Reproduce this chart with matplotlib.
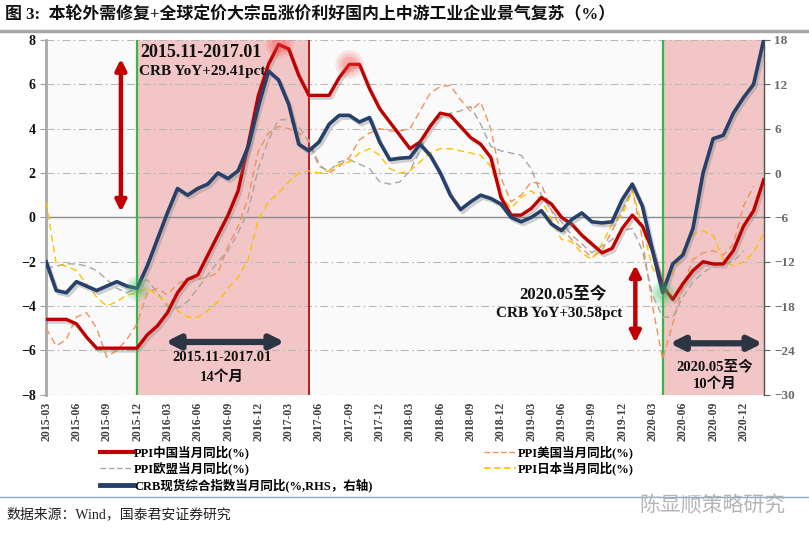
import numpy as np
import matplotlib.pyplot as plt
import matplotlib.patheffects as pe
from matplotlib.patches import FancyArrowPatch
from matplotlib.lines import Line2D

plt.rcParams['font.family'] = ['Liberation Serif', 'Noto Sans CJK SC']
plt.rcParams['font.weight'] = 'bold'

# monthly data, 2015-03 .. 2021-02
tick_labels = ['2015-03', '2015-06', '2015-09', '2015-12', '2016-03', '2016-06', '2016-09', '2016-12',
               '2017-03', '2017-06', '2017-09', '2017-12', '2018-03', '2018-06', '2018-09', '2018-12',
               '2019-03', '2019-06', '2019-09', '2019-12', '2020-03', '2020-06', '2020-09', '2020-12']

ppi_china = [-4.6, -4.6, -4.6, -4.8, -5.4, -5.9, -5.9, -5.9, -5.9, -5.9, -5.3, -4.9,
             -4.3, -3.4, -2.8, -2.6, -1.7, -0.8, 0.1, 1.2, 3.3, 5.5, 6.9, 7.8,
             7.6, 6.4, 5.5, 5.5, 5.5, 6.3, 6.9, 6.9, 5.8, 4.9, 4.3, 3.7,
             3.1, 3.4, 4.1, 4.7, 4.6, 4.1, 3.6, 3.3, 2.7, 0.9, 0.1, 0.1,
             0.4, 0.9, 0.6, 0.0, -0.3, -0.8, -1.2, -1.6, -1.4, -0.5, 0.1, -0.4,
             -1.5, -3.1, -3.7, -3.0, -2.4, -2.0, -2.1, -2.1, -1.5, -0.4, 0.3, 1.7]

ppi_us = [-5.0, -5.8, -5.5, -4.5, -4.3, -5.0, -6.3, -6.0, -5.5, -4.8, -3.4, -3.2,
          -3.5, -3.0, -2.8, -2.8, -2.7, -2.5, -1.3, -0.4, 0.9, 3.0, 3.8, 4.1,
          4.0, 3.8, 3.5, 2.4, 2.0, 2.3, 2.7, 3.5, 3.8, 4.0, 3.9, 3.9,
          4.0, 4.8, 5.6, 5.9, 5.95, 5.3, 4.8, 5.2, 4.0, 1.8, 0.7, 1.0,
          1.6, 1.5, 0.3, -0.5, -1.0, -1.4, -1.8, -1.5, -0.6, 0.3, 1.3, -1.0,
          -4.0, -6.4, -4.8, -3.1, -1.9, -1.6, -1.5, -1.7, -1.2, 0.5, 1.4]

ppi_eu = [-2.3, -2.2, -2.1, -2.1, -2.2, -2.4, -2.8, -3.2, -3.4, -3.2, -2.8, -3.4,
          -4.0, -4.1, -3.8, -3.2, -2.6, -2.0, -1.5, -0.7, 0.3, 2.2, 3.5, 4.4,
          4.4, 4.1, 3.4, 2.3, 2.1, 2.5, 2.6, 2.4, 2.2, 1.6, 1.5, 1.6,
          2.1, 3.0, 4.2, 4.5, 4.7, 4.8, 5.0, 4.2, 3.2, 3.0, 2.9, 2.8,
          2.2, 1.0, 0.3, -0.2, -0.8, -1.2, -1.6, -1.3, -1.0, -0.6, -0.5, -1.5,
          -3.5, -4.5, -4.5, -3.6, -2.9, -2.5, -2.2, -2.1, -2.0, -1.5]

ppi_japan = [0.7, -2.1, -2.2, -2.4, -3.0, -3.6, -4.0, -3.8, -3.5, -3.4, -3.2, -3.5,
             -3.9, -4.2, -4.5, -4.5, -4.2, -3.8, -3.2, -2.7, -1.9, -0.1, 0.7, 1.1,
             1.6, 2.0, 2.1, 2.0, 2.1, 2.4, 2.5, 2.9, 3.1, 2.8, 2.2, 2.0,
             2.1, 2.5, 2.9, 3.1, 3.1, 3.0, 2.9, 2.8, 2.3, 1.0, 0.4, 0.9,
             1.2, 0.8, -0.1, -1.0, -1.1, -1.6, -1.9, -1.2, -0.3, 0.1, 1.2, -0.4,
             -2.3, -3.0, -2.5, -1.5, -0.8, -0.6, -0.8, -1.9, -2.2, -2.0, -1.6, -0.7]

crb = [-12.0, -15.9, -16.2, -14.7, -15.3, -15.9, -15.3, -14.7, -15.3, -15.6, -12.6, -9.0,
       -5.4, -2.1, -3.0, -2.1, -1.5, 0.0, -0.75, 0.3, 3.6, 9.0, 13.8, 12.6,
       9.3, 3.9, 3.0, 4.2, 6.6, 7.8, 7.8, 6.9, 7.5, 4.2, 1.8, 2.0,
       2.1, 3.9, 2.4, 0.0, -3.0, -4.95, -3.9, -3.0, -3.45, -4.2, -6.0, -6.6,
       -6.0, -5.1, -6.9, -7.8, -6.3, -5.4, -6.6, -6.75, -6.6, -3.6, -1.5, -4.5,
       -10.5, -16.2, -12.3, -11.1, -7.5, 0.0, 4.65, 5.1, 8.1, 10.2, 12.0, 18.0]

red = '#c00000'
navy = '#26406a'
orange = '#f0925a'
grey = '#a6a6a6'
yellow = '#ffc000'
green = '#3cb44b'
pink = '#f2c6c6'

fig = plt.figure(figsize=(8.09, 5.40), dpi=100)
ax = fig.add_axes([0.057, 0.269, 0.887, 0.657])
ax.set_facecolor('#fafafa')
ax2 = ax.twinx()

# shaded periods and markers
ax.axvspan(9, 26, color=pink, zorder=0.8, lw=0)
ax.axvspan(61, 71, color=pink, zorder=0.8, lw=0)
for v in range(-8, 9, 2):
    if v != 0:
        ax.axhline(v, color='#b8b8b8', lw=0.8, ls=(0, (7, 3, 1.5, 3)), zorder=1)
ax.axhline(0, color='#8c8c8c', lw=1.0, zorder=1.2)
ax.axvline(9, color=green, lw=1.6, zorder=2)
ax.axvline(61, color=green, lw=1.6, zorder=2)
ax.axvline(26, color='#b01010', lw=1.3, zorder=2)

x = np.arange(len(ppi_china))
shadow = [pe.SimpleLineShadow(offset=(1.5, -2), shadow_color='#808080', alpha=0.35), pe.Normal()]

ax.plot(np.arange(len(ppi_us)), ppi_us, color=orange, lw=1.0, ls=(0, (5, 3)), zorder=3)
ax.plot(np.arange(len(ppi_eu)), ppi_eu, color=grey, lw=1.0, ls=(0, (5, 3)), zorder=3)
ax.plot(x, ppi_japan, color=yellow, lw=1.0, ls=(0, (5, 3)), zorder=3)
ax.plot(x, ppi_china, color=red, lw=2.4, zorder=4, path_effects=shadow)
ax2.plot(x, crb, color=navy, lw=2.6, zorder=5, path_effects=shadow)

# glow highlights
for s, a in [(420, 0.12), (260, 0.15), (130, 0.2)]:
    ax.scatter([23, 30], [ppi_china[23], ppi_china[30]], s=s, color='#ff4040', alpha=a, lw=0, zorder=4.5)
    ax2.scatter([9, 61], [crb[9], crb[61]], s=s * 0.8, color='#40c060', alpha=a, lw=0, zorder=6)

# arrows
def arrow(p0, p1, color, lw, ms):
    ax.add_patch(FancyArrowPatch(p0, p1, arrowstyle='<|-|>', mutation_scale=ms, lw=lw,
                                 color=color, zorder=7, shrinkA=0, shrinkB=0))

arrow((7.4, 0.25), (7.4, 7.15), red, 3.2, 16)
arrow((58.3, -5.65), (58.3, -2.15), red, 3.2, 16)
arrow((11.8, -5.62), (23.6, -5.62), '#2b3544', 4.5, 20)
arrow((61.7, -5.68), (70.9, -5.68), '#2b3544', 4.5, 20)

txt = dict(ha='center', va='center', color='#111111', zorder=8)
ax.text(15.3, 7.43, '2015.11-2017.01', fontsize=13, **txt)
ax.text(15.4, 6.58, 'CRB YoY+29.41pct', fontsize=11, **txt)
ax.text(17.4, -6.3, '2015.11-2017.01', fontsize=10.5, **txt)
ax.text(17.4, -7.2, '14个月', fontsize=10.5, **txt)
ax.text(51.1, -3.47, '2020.05至今', fontsize=12, **txt)
ax.text(50.8, -4.32, 'CRB YoY+30.58pct', fontsize=11, **txt)
ax.text(66.2, -6.7, '2020.05至今', fontsize=10.5, **txt)
ax.text(66.2, -7.5, '10个月', fontsize=10.5, **txt)

# axes
ax.set_xlim(0, 71)
ax.set_ylim(-8, 8)
ax2.set_ylim(-30, 18)
ax.set_yticks(range(-8, 9, 2))
ax2.set_yticks(range(-30, 19, 6))
ax.set_xticks(np.arange(0, 72, 3))
ax.set_xticklabels(tick_labels, rotation=90)
ax.tick_params(axis='x', length=0, labelsize=8.5, labelcolor='#404040', pad=5)
ax.tick_params(axis='y', length=4, color='#a0a0a0', labelsize=10, labelcolor='#111111')
ax2.tick_params(axis='y', length=4, color='#606060', labelsize=9.5, labelcolor='#6a6a6a')
for a in (ax, ax2):
    for k in ('top', 'bottom'):
        a.spines[k].set_visible(False)
ax.spines['right'].set_visible(False)
ax2.spines['left'].set_visible(False)
ax.spines['left'].set_color('#a8a8a8')
ax.spines['left'].set_linewidth(2)
ax2.spines['right'].set_color('#505050')
ax2.spines['right'].set_linewidth(1)

# legend
h = [Line2D([], [], color=red, lw=3),
     Line2D([], [], color=grey, lw=1, ls=(0, (4, 2))),
     Line2D([], [], color=navy, lw=3.5),
     Line2D([], [], color=orange, lw=1, ls=(0, (4, 2))),
     Line2D([], [], color=yellow, lw=1.2, ls=(0, (4, 2)))]
labels = ['PPI中国当月同比(%)', 'PPI欧盟当月同比(%)', 'CRB现货综合指数当月同比(%,RHS，右轴)',
          'PPI美国当月同比(%)', 'PPI日本当月同比(%)']
fig.legend(h, labels, ncol=2, loc='upper left', bbox_to_anchor=(0.124, 0.175), frameon=False,
           fontsize=9, handlelength=2.6, handletextpad=0.1, columnspacing=8.9, labelspacing=0.2,
           borderaxespad=0, borderpad=0)

# title, footer
fig.text(0.006, 1 - 15 / 540, '图 3:  本轮外需修复+全球定价大宗品涨价利好国内上中游工业企业景气复苏（%）',
         fontsize=12.2, va='center', ha='left', color='#111111')
fig.add_artist(Line2D([0, 1], [1 - 31 / 540] * 2, color='#a6a6a6', lw=2.5))
fig.add_artist(Line2D([0, 1], [1 - 497 / 540] * 2, color='#8aa6c8', lw=1))
fig.text(0.008, 1 - 514 / 540, '数据来源：Wind，国泰君安证券研究', fontsize=10, weight='normal',
         va='center', ha='left', color='#222222')
fig.text(0.79, 1 - 505 / 540, '陈显顺策略研究', fontsize=15, weight='normal',
         va='center', ha='left', color='#b5b5b5', family=['Noto Sans CJK SC'])

fig.savefig('out.png', dpi=100)
